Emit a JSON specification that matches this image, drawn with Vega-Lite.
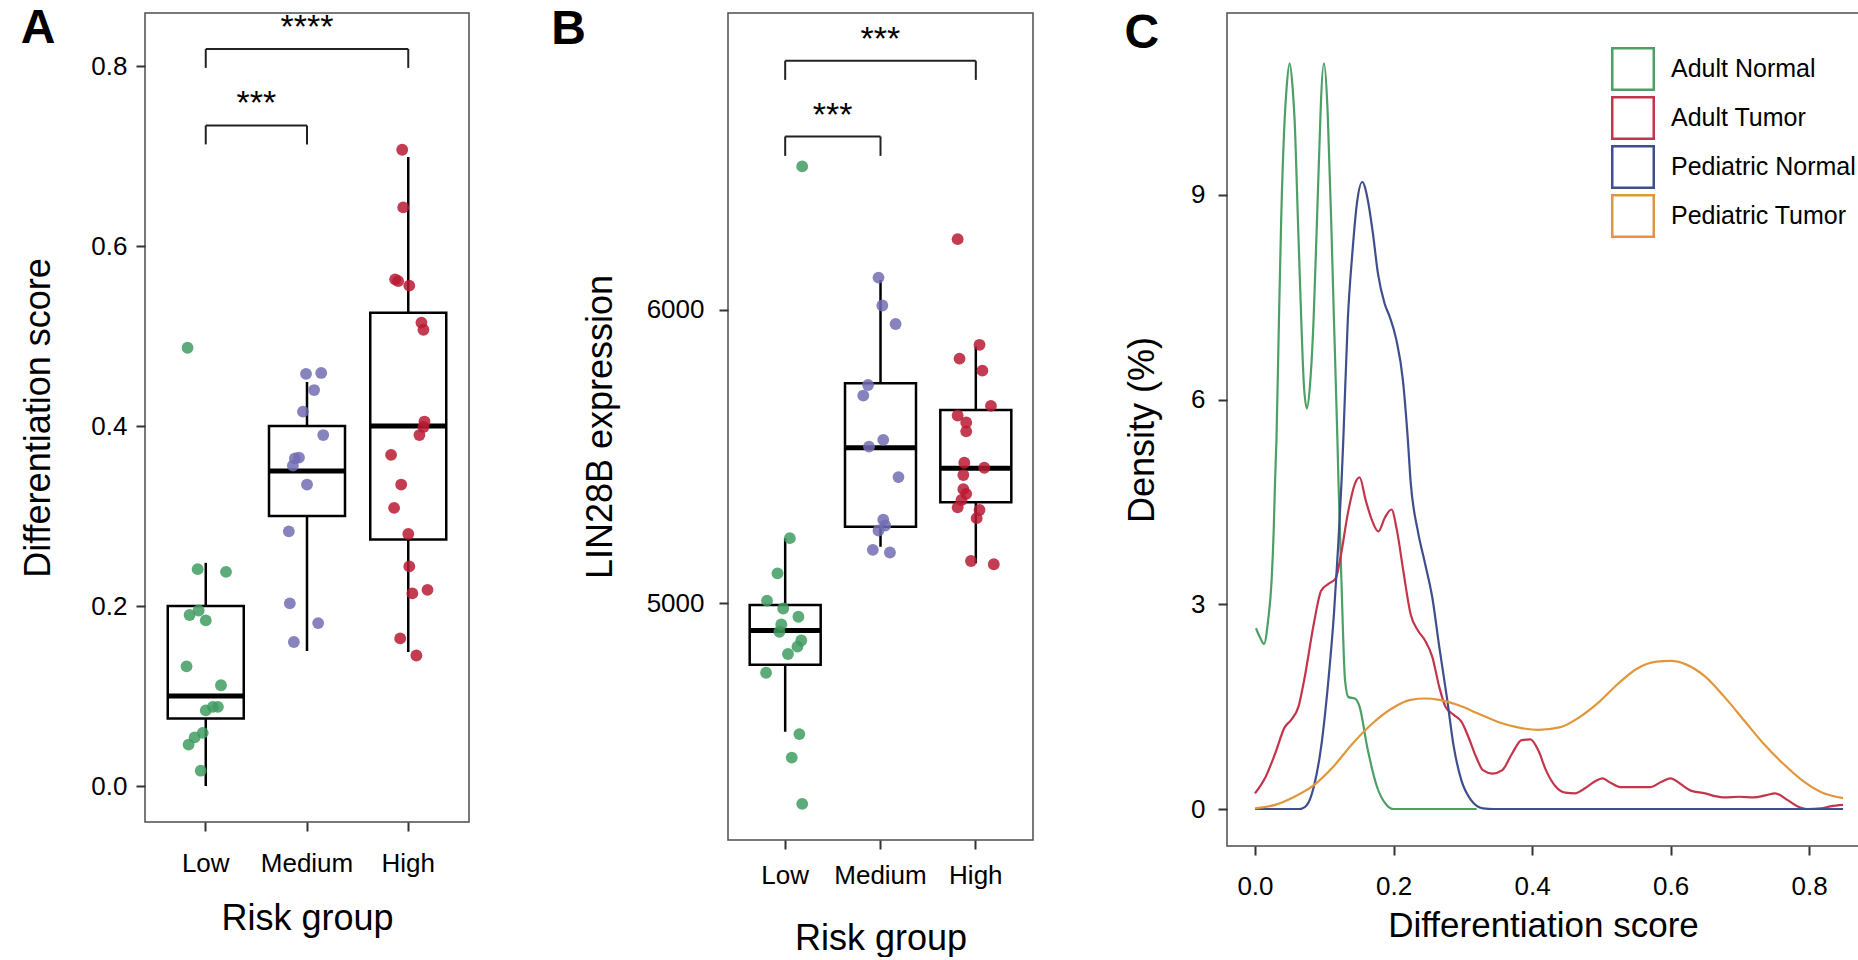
{
  "$schema": "https://vega.github.io/schema/vega-lite/v6.json",
  "background": "white",
  "padding": {"left": 20, "top": 4, "right": 0, "bottom": 0},
  "config": {
    "font": "Liberation Sans",
    "view": {"stroke": "#4d4d4d", "strokeWidth": 1.5},
    "axis": {"grid": false, "domain": false, "ticks": true, "tickColor": "#333333", "tickWidth": 2, "tickSize": 9, "labelFontSize": 26, "labelColor": "#000000", "titleFontSize": 36, "titleFontWeight": "normal", "titleColor": "#000000"}
  },
  "resolve": {"scale": {"color": "independent", "xOffset": "independent"}, "legend": {"color": "independent"}},
  "datasets": {
    "boxA": [
      {"group": "Low", "lower": 0.0, "q1": 0.075, "median": 0.1, "q3": 0.2, "upper": 0.248},
      {"group": "Medium", "lower": 0.15, "q1": 0.3, "median": 0.35, "q3": 0.4, "upper": 0.449},
      {"group": "High", "lower": 0.149, "q1": 0.274, "median": 0.4, "q3": 0.526, "upper": 0.699}
    ],
    "ptsA": [
      {"group": "Low", "value": 0.487, "jit": -0.18}, {"group": "Low", "value": 0.241, "jit": -0.08}, {"group": "Low", "value": 0.238, "jit": 0.2},
      {"group": "Low", "value": 0.195, "jit": -0.07}, {"group": "Low", "value": 0.19, "jit": -0.16}, {"group": "Low", "value": 0.184, "jit": 0.0},
      {"group": "Low", "value": 0.133, "jit": -0.19}, {"group": "Low", "value": 0.112, "jit": 0.15}, {"group": "Low", "value": 0.088, "jit": 0.07},
      {"group": "Low", "value": 0.088, "jit": 0.12}, {"group": "Low", "value": 0.084, "jit": 0.0}, {"group": "Low", "value": 0.059, "jit": -0.03},
      {"group": "Low", "value": 0.054, "jit": -0.11}, {"group": "Low", "value": 0.046, "jit": -0.17}, {"group": "Low", "value": 0.017, "jit": -0.05},
      {"group": "Medium", "value": 0.458, "jit": -0.01}, {"group": "Medium", "value": 0.459, "jit": 0.14}, {"group": "Medium", "value": 0.44, "jit": 0.07},
      {"group": "Medium", "value": 0.416, "jit": -0.04}, {"group": "Medium", "value": 0.39, "jit": 0.16}, {"group": "Medium", "value": 0.365, "jit": -0.08},
      {"group": "Medium", "value": 0.364, "jit": -0.12}, {"group": "Medium", "value": 0.356, "jit": -0.14}, {"group": "Medium", "value": 0.335, "jit": 0.0},
      {"group": "Medium", "value": 0.283, "jit": -0.18}, {"group": "Medium", "value": 0.203, "jit": -0.17}, {"group": "Medium", "value": 0.181, "jit": 0.11},
      {"group": "Medium", "value": 0.16, "jit": -0.13},
      {"group": "High", "value": 0.707, "jit": -0.06}, {"group": "High", "value": 0.643, "jit": -0.05}, {"group": "High", "value": 0.563, "jit": -0.13},
      {"group": "High", "value": 0.561, "jit": -0.1}, {"group": "High", "value": 0.556, "jit": 0.01}, {"group": "High", "value": 0.515, "jit": 0.13},
      {"group": "High", "value": 0.507, "jit": 0.15}, {"group": "High", "value": 0.405, "jit": 0.16}, {"group": "High", "value": 0.399, "jit": 0.15},
      {"group": "High", "value": 0.39, "jit": 0.11}, {"group": "High", "value": 0.368, "jit": -0.17}, {"group": "High", "value": 0.335, "jit": -0.07},
      {"group": "High", "value": 0.309, "jit": -0.14}, {"group": "High", "value": 0.28, "jit": 0.0}, {"group": "High", "value": 0.244, "jit": 0.01},
      {"group": "High", "value": 0.214, "jit": 0.04}, {"group": "High", "value": 0.218, "jit": 0.19}, {"group": "High", "value": 0.164, "jit": -0.08},
      {"group": "High", "value": 0.145, "jit": 0.08}
    ],
    "brA": [
      {"group": "Low", "group2": "High", "top": 0.819},
      {"group": "Low", "group2": "Medium", "top": 0.734}
    ],
    "legA": [
      {"group": "Low", "top": 0.819, "bottom": 0.798}, {"group": "High", "top": 0.819, "bottom": 0.798},
      {"group": "Low", "top": 0.734, "bottom": 0.713}, {"group": "Medium", "top": 0.734, "bottom": 0.713}
    ],
    "labA": [
      {"group": "Medium", "jit": 0, "top": 0.819, "label": "****"},
      {"group": "Low", "jit": 0.5, "top": 0.734, "label": "***"}
    ],
    "boxB": [
      {"group": "Low", "lower": 4562, "q1": 4790, "median": 4907, "q3": 4994, "upper": 5222},
      {"group": "Medium", "lower": 5193, "q1": 5261, "median": 5530, "q3": 5750, "upper": 6102},
      {"group": "High", "lower": 5136, "q1": 5344, "median": 5460, "q3": 5659, "upper": 5875}
    ],
    "ptsB": [
      {"group": "Low", "value": 6489, "jit": 0.18}, {"group": "Low", "value": 5222, "jit": 0.05}, {"group": "Low", "value": 5102, "jit": -0.08},
      {"group": "Low", "value": 5009, "jit": -0.19}, {"group": "Low", "value": 4982, "jit": -0.02}, {"group": "Low", "value": 4954, "jit": 0.14},
      {"group": "Low", "value": 4928, "jit": -0.04}, {"group": "Low", "value": 4903, "jit": -0.06}, {"group": "Low", "value": 4873, "jit": 0.17},
      {"group": "Low", "value": 4852, "jit": 0.13}, {"group": "Low", "value": 4827, "jit": 0.03}, {"group": "Low", "value": 4763, "jit": -0.2},
      {"group": "Low", "value": 4554, "jit": 0.15}, {"group": "Low", "value": 4474, "jit": 0.07}, {"group": "Low", "value": 4316, "jit": 0.18},
      {"group": "Medium", "value": 6110, "jit": -0.02}, {"group": "Medium", "value": 6015, "jit": 0.02}, {"group": "Medium", "value": 5952, "jit": 0.16},
      {"group": "Medium", "value": 5744, "jit": -0.13}, {"group": "Medium", "value": 5708, "jit": -0.18}, {"group": "Medium", "value": 5557, "jit": 0.03},
      {"group": "Medium", "value": 5534, "jit": -0.12}, {"group": "Medium", "value": 5430, "jit": 0.19}, {"group": "Medium", "value": 5285, "jit": 0.03},
      {"group": "Medium", "value": 5265, "jit": 0.05}, {"group": "Medium", "value": 5248, "jit": -0.02}, {"group": "Medium", "value": 5182, "jit": -0.08},
      {"group": "Medium", "value": 5173, "jit": 0.1},
      {"group": "High", "value": 6241, "jit": -0.19}, {"group": "High", "value": 5881, "jit": 0.04}, {"group": "High", "value": 5834, "jit": -0.17},
      {"group": "High", "value": 5793, "jit": 0.07}, {"group": "High", "value": 5673, "jit": 0.16}, {"group": "High", "value": 5640, "jit": -0.19},
      {"group": "High", "value": 5616, "jit": -0.1}, {"group": "High", "value": 5586, "jit": -0.1}, {"group": "High", "value": 5479, "jit": -0.12},
      {"group": "High", "value": 5462, "jit": 0.09}, {"group": "High", "value": 5437, "jit": -0.13}, {"group": "High", "value": 5389, "jit": -0.13},
      {"group": "High", "value": 5373, "jit": -0.1}, {"group": "High", "value": 5352, "jit": -0.15}, {"group": "High", "value": 5327, "jit": -0.19},
      {"group": "High", "value": 5318, "jit": 0.04}, {"group": "High", "value": 5290, "jit": 0.01}, {"group": "High", "value": 5144, "jit": -0.05},
      {"group": "High", "value": 5133, "jit": 0.19}
    ],
    "brB": [
      {"group": "Low", "group2": "High", "top": 6849},
      {"group": "Low", "group2": "Medium", "top": 6591}
    ],
    "legB": [
      {"group": "Low", "top": 6849, "bottom": 6784}, {"group": "High", "top": 6849, "bottom": 6784},
      {"group": "Low", "top": 6591, "bottom": 6525}, {"group": "Medium", "top": 6591, "bottom": 6525}
    ],
    "labB": [
      {"group": "Medium", "jit": 0, "top": 6849, "label": "***"},
      {"group": "Low", "jit": 0.5, "top": 6591, "label": "***"}
    ],
    "dens": [
      {"grp": "Adult Normal", "x": 0.0014, "d": 2.65}, {"grp": "Adult Normal", "x": 0.007, "d": 2.52}, {"grp": "Adult Normal", "x": 0.013, "d": 2.42},
      {"grp": "Adult Normal", "x": 0.019, "d": 2.77}, {"grp": "Adult Normal", "x": 0.024, "d": 3.35}, {"grp": "Adult Normal", "x": 0.027, "d": 4.08},
      {"grp": "Adult Normal", "x": 0.029, "d": 4.81}, {"grp": "Adult Normal", "x": 0.031, "d": 5.41}, {"grp": "Adult Normal", "x": 0.0346, "d": 7.17},
      {"grp": "Adult Normal", "x": 0.0378, "d": 8.63}, {"grp": "Adult Normal", "x": 0.0428, "d": 10.1}, {"grp": "Adult Normal", "x": 0.0455, "d": 10.55},
      {"grp": "Adult Normal", "x": 0.05, "d": 10.93}, {"grp": "Adult Normal", "x": 0.0545, "d": 10.55}, {"grp": "Adult Normal", "x": 0.0572, "d": 10.1},
      {"grp": "Adult Normal", "x": 0.062, "d": 8.63}, {"grp": "Adult Normal", "x": 0.0668, "d": 7.17}, {"grp": "Adult Normal", "x": 0.0707, "d": 6.2},
      {"grp": "Adult Normal", "x": 0.075, "d": 5.87}, {"grp": "Adult Normal", "x": 0.0793, "d": 6.2}, {"grp": "Adult Normal", "x": 0.0846, "d": 7.17},
      {"grp": "Adult Normal", "x": 0.0895, "d": 8.63}, {"grp": "Adult Normal", "x": 0.0943, "d": 10.1}, {"grp": "Adult Normal", "x": 0.095, "d": 10.3},
      {"grp": "Adult Normal", "x": 0.0995, "d": 10.93}, {"grp": "Adult Normal", "x": 0.1045, "d": 10.3}, {"grp": "Adult Normal", "x": 0.1053, "d": 10.1},
      {"grp": "Adult Normal", "x": 0.11, "d": 8.63}, {"grp": "Adult Normal", "x": 0.114, "d": 7.17}, {"grp": "Adult Normal", "x": 0.119, "d": 5.41},
      {"grp": "Adult Normal", "x": 0.1205, "d": 4.81}, {"grp": "Adult Normal", "x": 0.1248, "d": 3.35}, {"grp": "Adult Normal", "x": 0.13, "d": 1.89},
      {"grp": "Adult Normal", "x": 0.135, "d": 1.64}, {"grp": "Adult Normal", "x": 0.144, "d": 1.62}, {"grp": "Adult Normal", "x": 0.151, "d": 1.5},
      {"grp": "Adult Normal", "x": 0.162, "d": 0.91}, {"grp": "Adult Normal", "x": 0.176, "d": 0.33}, {"grp": "Adult Normal", "x": 0.19, "d": 0.06},
      {"grp": "Adult Normal", "x": 0.2, "d": 0.0}, {"grp": "Adult Normal", "x": 0.25, "d": 0.0}, {"grp": "Adult Normal", "x": 0.32, "d": 0.0},
      {"grp": "Adult Tumor", "x": 0.0, "d": 0.23}, {"grp": "Adult Tumor", "x": 0.0153, "d": 0.47}, {"grp": "Adult Tumor", "x": 0.029, "d": 0.81},
      {"grp": "Adult Tumor", "x": 0.043, "d": 1.2}, {"grp": "Adult Tumor", "x": 0.0516, "d": 1.3}, {"grp": "Adult Tumor", "x": 0.0628, "d": 1.5},
      {"grp": "Adult Tumor", "x": 0.071, "d": 1.89}, {"grp": "Adult Tumor", "x": 0.085, "d": 2.72}, {"grp": "Adult Tumor", "x": 0.0955, "d": 3.2},
      {"grp": "Adult Tumor", "x": 0.106, "d": 3.3}, {"grp": "Adult Tumor", "x": 0.1165, "d": 3.38}, {"grp": "Adult Tumor", "x": 0.1235, "d": 3.69},
      {"grp": "Adult Tumor", "x": 0.134, "d": 4.33}, {"grp": "Adult Tumor", "x": 0.1444, "d": 4.77}, {"grp": "Adult Tumor", "x": 0.151, "d": 4.86},
      {"grp": "Adult Tumor", "x": 0.16, "d": 4.52}, {"grp": "Adult Tumor", "x": 0.169, "d": 4.23}, {"grp": "Adult Tumor", "x": 0.178, "d": 4.07},
      {"grp": "Adult Tumor", "x": 0.188, "d": 4.28}, {"grp": "Adult Tumor", "x": 0.197, "d": 4.39}, {"grp": "Adult Tumor", "x": 0.205, "d": 4.08},
      {"grp": "Adult Tumor", "x": 0.214, "d": 3.5}, {"grp": "Adult Tumor", "x": 0.2246, "d": 2.86}, {"grp": "Adult Tumor", "x": 0.235, "d": 2.62},
      {"grp": "Adult Tumor", "x": 0.2455, "d": 2.47}, {"grp": "Adult Tumor", "x": 0.256, "d": 2.23}, {"grp": "Adult Tumor", "x": 0.266, "d": 1.79},
      {"grp": "Adult Tumor", "x": 0.275, "d": 1.5}, {"grp": "Adult Tumor", "x": 0.287, "d": 1.38}, {"grp": "Adult Tumor", "x": 0.298, "d": 1.28},
      {"grp": "Adult Tumor", "x": 0.308, "d": 1.06}, {"grp": "Adult Tumor", "x": 0.319, "d": 0.77}, {"grp": "Adult Tumor", "x": 0.329, "d": 0.57},
      {"grp": "Adult Tumor", "x": 0.343, "d": 0.52}, {"grp": "Adult Tumor", "x": 0.357, "d": 0.57}, {"grp": "Adult Tumor", "x": 0.371, "d": 0.81},
      {"grp": "Adult Tumor", "x": 0.385, "d": 1.01}, {"grp": "Adult Tumor", "x": 0.3975, "d": 1.02}, {"grp": "Adult Tumor", "x": 0.409, "d": 0.86},
      {"grp": "Adult Tumor", "x": 0.42, "d": 0.57}, {"grp": "Adult Tumor", "x": 0.434, "d": 0.33}, {"grp": "Adult Tumor", "x": 0.448, "d": 0.24},
      {"grp": "Adult Tumor", "x": 0.462, "d": 0.23}, {"grp": "Adult Tumor", "x": 0.4757, "d": 0.3}, {"grp": "Adult Tumor", "x": 0.49, "d": 0.4},
      {"grp": "Adult Tumor", "x": 0.5015, "d": 0.45}, {"grp": "Adult Tumor", "x": 0.514, "d": 0.38}, {"grp": "Adult Tumor", "x": 0.528, "d": 0.32},
      {"grp": "Adult Tumor", "x": 0.545, "d": 0.32}, {"grp": "Adult Tumor", "x": 0.57, "d": 0.32}, {"grp": "Adult Tumor", "x": 0.587, "d": 0.4},
      {"grp": "Adult Tumor", "x": 0.6, "d": 0.45}, {"grp": "Adult Tumor", "x": 0.614, "d": 0.37}, {"grp": "Adult Tumor", "x": 0.629, "d": 0.27},
      {"grp": "Adult Tumor", "x": 0.65, "d": 0.23}, {"grp": "Adult Tumor", "x": 0.664, "d": 0.19}, {"grp": "Adult Tumor", "x": 0.678, "d": 0.17},
      {"grp": "Adult Tumor", "x": 0.699, "d": 0.18}, {"grp": "Adult Tumor", "x": 0.72, "d": 0.17}, {"grp": "Adult Tumor", "x": 0.737, "d": 0.2},
      {"grp": "Adult Tumor", "x": 0.751, "d": 0.23}, {"grp": "Adult Tumor", "x": 0.769, "d": 0.13}, {"grp": "Adult Tumor", "x": 0.783, "d": 0.04},
      {"grp": "Adult Tumor", "x": 0.797, "d": 0.0}, {"grp": "Adult Tumor", "x": 0.817, "d": 0.01}, {"grp": "Adult Tumor", "x": 0.831, "d": 0.04},
      {"grp": "Adult Tumor", "x": 0.849, "d": 0.06},
      {"grp": "Pediatric Normal", "x": 0.0, "d": 0.0}, {"grp": "Pediatric Normal", "x": 0.064, "d": 0.0}, {"grp": "Pediatric Normal", "x": 0.075, "d": 0.06},
      {"grp": "Pediatric Normal", "x": 0.085, "d": 0.33}, {"grp": "Pediatric Normal", "x": 0.0955, "d": 0.91}, {"grp": "Pediatric Normal", "x": 0.106, "d": 1.89},
      {"grp": "Pediatric Normal", "x": 0.114, "d": 2.86}, {"grp": "Pediatric Normal", "x": 0.12, "d": 3.84}, {"grp": "Pediatric Normal", "x": 0.125, "d": 4.81},
      {"grp": "Pediatric Normal", "x": 0.1275, "d": 5.41}, {"grp": "Pediatric Normal", "x": 0.134, "d": 7.17}, {"grp": "Pediatric Normal", "x": 0.1406, "d": 8.15},
      {"grp": "Pediatric Normal", "x": 0.1472, "d": 8.88}, {"grp": "Pediatric Normal", "x": 0.1548, "d": 9.19}, {"grp": "Pediatric Normal", "x": 0.163, "d": 8.92},
      {"grp": "Pediatric Normal", "x": 0.1702, "d": 8.44}, {"grp": "Pediatric Normal", "x": 0.1775, "d": 7.85}, {"grp": "Pediatric Normal", "x": 0.1871, "d": 7.41},
      {"grp": "Pediatric Normal", "x": 0.1943, "d": 7.22}, {"grp": "Pediatric Normal", "x": 0.204, "d": 6.88}, {"grp": "Pediatric Normal", "x": 0.2135, "d": 6.29},
      {"grp": "Pediatric Normal", "x": 0.2207, "d": 5.41}, {"grp": "Pediatric Normal", "x": 0.2246, "d": 4.81}, {"grp": "Pediatric Normal", "x": 0.235, "d": 4.08},
      {"grp": "Pediatric Normal", "x": 0.2455, "d": 3.6}, {"grp": "Pediatric Normal", "x": 0.256, "d": 3.1}, {"grp": "Pediatric Normal", "x": 0.266, "d": 2.38},
      {"grp": "Pediatric Normal", "x": 0.277, "d": 1.64}, {"grp": "Pediatric Normal", "x": 0.287, "d": 0.91}, {"grp": "Pediatric Normal", "x": 0.298, "d": 0.42},
      {"grp": "Pediatric Normal", "x": 0.312, "d": 0.13}, {"grp": "Pediatric Normal", "x": 0.329, "d": 0.01}, {"grp": "Pediatric Normal", "x": 0.345, "d": 0.0},
      {"grp": "Pediatric Normal", "x": 0.849, "d": 0.0},
      {"grp": "Pediatric Tumor", "x": 0.0, "d": 0.01}, {"grp": "Pediatric Tumor", "x": 0.029, "d": 0.06}, {"grp": "Pediatric Tumor", "x": 0.057, "d": 0.18},
      {"grp": "Pediatric Tumor", "x": 0.085, "d": 0.35}, {"grp": "Pediatric Tumor", "x": 0.113, "d": 0.62}, {"grp": "Pediatric Tumor", "x": 0.141, "d": 0.96},
      {"grp": "Pediatric Tumor", "x": 0.169, "d": 1.25}, {"grp": "Pediatric Tumor", "x": 0.197, "d": 1.47}, {"grp": "Pediatric Tumor", "x": 0.2246, "d": 1.6},
      {"grp": "Pediatric Tumor", "x": 0.2455, "d": 1.62}, {"grp": "Pediatric Tumor", "x": 0.266, "d": 1.6}, {"grp": "Pediatric Tumor", "x": 0.294, "d": 1.52},
      {"grp": "Pediatric Tumor", "x": 0.322, "d": 1.4}, {"grp": "Pediatric Tumor", "x": 0.35, "d": 1.28}, {"grp": "Pediatric Tumor", "x": 0.378, "d": 1.2},
      {"grp": "Pediatric Tumor", "x": 0.409, "d": 1.16}, {"grp": "Pediatric Tumor", "x": 0.441, "d": 1.2}, {"grp": "Pediatric Tumor", "x": 0.469, "d": 1.35},
      {"grp": "Pediatric Tumor", "x": 0.497, "d": 1.57}, {"grp": "Pediatric Tumor", "x": 0.5245, "d": 1.84}, {"grp": "Pediatric Tumor", "x": 0.552, "d": 2.06},
      {"grp": "Pediatric Tumor", "x": 0.58, "d": 2.16}, {"grp": "Pediatric Tumor", "x": 0.6, "d": 2.17}, {"grp": "Pediatric Tumor", "x": 0.622, "d": 2.12},
      {"grp": "Pediatric Tumor", "x": 0.65, "d": 1.94}, {"grp": "Pediatric Tumor", "x": 0.678, "d": 1.64}, {"grp": "Pediatric Tumor", "x": 0.706, "d": 1.3},
      {"grp": "Pediatric Tumor", "x": 0.734, "d": 0.96}, {"grp": "Pediatric Tumor", "x": 0.762, "d": 0.67}, {"grp": "Pediatric Tumor", "x": 0.79, "d": 0.42},
      {"grp": "Pediatric Tumor", "x": 0.817, "d": 0.25}, {"grp": "Pediatric Tumor", "x": 0.849, "d": 0.16}
    ]
  },
  "spacing": 80,
  "hconcat": [
    {
      "width": 324,
      "height": 809,
      "title": {"text": "A", "anchor": "start", "frame": "bounds", "offset": -42, "fontSize": 48, "fontWeight": "bold", "color": "#000000"},
      "encoding": {
        "x": {"field": "group", "type": "nominal", "scale": {"domain": ["Low", "Medium", "High"], "paddingInner": 0.25, "paddingOuter": 0.225}, "axis": {"title": "Risk group", "labelAngle": 0, "labelPadding": 19, "titlePadding": 25}}
      },
      "layer": [
        {"data": {"name": "boxA"}, "mark": {"type": "rule", "stroke": "#000000", "strokeWidth": 2.5},
         "encoding": {"y": {"field": "lower", "type": "quantitative", "scale": {"domain": [-0.04, 0.859], "nice": false, "zero": false}, "axis": {"title": "Differentiation score", "values": [0, 0.2, 0.4, 0.6, 0.8], "format": ".1f", "labelPadding": 9, "titlePadding": 33}}, "y2": {"field": "upper"}}},
        {"data": {"name": "boxA"}, "mark": {"type": "bar", "width": 76, "fill": "#ffffff", "stroke": "#000000", "strokeWidth": 2.5},
         "encoding": {"y": {"field": "q1", "type": "quantitative"}, "y2": {"field": "q3"}}},
        {"data": {"name": "boxA"}, "mark": {"type": "tick", "color": "#000000", "size": 76, "thickness": 5, "opacity": 1},
         "encoding": {"y": {"field": "median", "type": "quantitative"}}},
        {"data": {"name": "ptsA"}, "mark": {"type": "circle", "size": 140, "opacity": 0.85},
         "encoding": {"y": {"field": "value", "type": "quantitative"},
           "xOffset": {"field": "jit", "type": "quantitative", "scale": {"domain": [-0.5, 0.5], "range": [-12.6, 88.6]}},
           "color": {"field": "group", "type": "nominal", "scale": {"domain": ["Low", "Medium", "High"], "range": ["#3F9C62", "#726DB3", "#BA1A32"]}, "legend": null}}},
        {"data": {"name": "brA"}, "mark": {"type": "rule", "stroke": "#222222", "strokeWidth": 2},
         "encoding": {"x2": {"field": "group2"}, "y": {"field": "top", "type": "quantitative"}}},
        {"data": {"name": "legA"}, "mark": {"type": "rule", "stroke": "#222222", "strokeWidth": 2},
         "encoding": {"y": {"field": "bottom", "type": "quantitative"}, "y2": {"field": "top"}}},
        {"data": {"name": "labA"}, "mark": {"type": "text", "fontSize": 34, "dy": -11, "baseline": "alphabetic", "color": "#000000"},
         "encoding": {"xOffset": {"field": "jit", "type": "quantitative"}, "y": {"field": "top", "type": "quantitative"}, "text": {"field": "label"}}}
      ]
    },
    {
      "spacing": 89,
      "resolve": {"scale": {"color": "independent", "xOffset": "independent"}, "legend": {"color": "independent"}},
      "hconcat": [
        {
          "width": 305,
          "height": 827,
          "title": {"text": "B", "anchor": "start", "frame": "bounds", "offset": -41, "dx": -31, "fontSize": 48, "fontWeight": "bold", "color": "#000000"},
          "encoding": {
            "x": {"field": "group", "type": "nominal", "scale": {"domain": ["Low", "Medium", "High"], "paddingInner": 0.25, "paddingOuter": 0.225}, "axis": {"title": "Risk group", "labelAngle": 0, "labelPadding": 13, "titlePadding": 33}}
          },
          "layer": [
            {"data": {"name": "boxB"}, "mark": {"type": "rule", "stroke": "#000000", "strokeWidth": 2.5},
             "encoding": {"y": {"field": "lower", "type": "quantitative", "scale": {"domain": [4193, 7012], "nice": false, "zero": false}, "axis": {"title": "LIN28B expression", "values": [5000, 6000], "format": "d", "labelPadding": 15, "titlePadding": 27}}, "y2": {"field": "upper"}}},
            {"data": {"name": "boxB"}, "mark": {"type": "bar", "width": 71, "fill": "#ffffff", "stroke": "#000000", "strokeWidth": 2.5},
             "encoding": {"y": {"field": "q1", "type": "quantitative"}, "y2": {"field": "q3"}}},
            {"data": {"name": "boxB"}, "mark": {"type": "tick", "color": "#000000", "size": 71, "thickness": 5, "opacity": 1},
             "encoding": {"y": {"field": "median", "type": "quantitative"}}},
            {"data": {"name": "ptsB"}, "mark": {"type": "circle", "size": 140, "opacity": 0.85},
             "encoding": {"y": {"field": "value", "type": "quantitative"},
               "xOffset": {"field": "jit", "type": "quantitative", "scale": {"domain": [-0.5, 0.5], "range": [-11.9, 83.2]}},
               "color": {"field": "group", "type": "nominal", "scale": {"domain": ["Low", "Medium", "High"], "range": ["#3F9C62", "#726DB3", "#BA1A32"]}, "legend": null}}},
            {"data": {"name": "brB"}, "mark": {"type": "rule", "stroke": "#222222", "strokeWidth": 2},
             "encoding": {"x2": {"field": "group2"}, "y": {"field": "top", "type": "quantitative"}}},
            {"data": {"name": "legB"}, "mark": {"type": "rule", "stroke": "#222222", "strokeWidth": 2},
             "encoding": {"y": {"field": "bottom", "type": "quantitative"}, "y2": {"field": "top"}}},
            {"data": {"name": "labB"}, "mark": {"type": "text", "fontSize": 34, "dy": -11, "baseline": "alphabetic", "color": "#000000"},
             "encoding": {"xOffset": {"field": "jit", "type": "quantitative"}, "y": {"field": "top", "type": "quantitative"}, "text": {"field": "label"}}}
          ]
        },
        {
          "width": 632,
          "height": 833,
          "title": {"text": "C", "anchor": "start", "frame": "bounds", "offset": -45, "fontSize": 48, "fontWeight": "bold", "color": "#000000"},
          "data": {"name": "dens"},
          "mark": {"type": "line", "strokeWidth": 2.2, "interpolate": "monotone", "clip": true},
          "encoding": {
            "x": {"field": "x", "type": "quantitative", "scale": {"domain": [-0.0404, 0.872], "nice": false, "zero": false}, "axis": {"title": "Differentiation score", "titleFontSize": 35, "values": [0, 0.2, 0.4, 0.6, 0.8], "format": ".1f", "labelPadding": 18, "titlePadding": 9}},
            "y": {"field": "d", "type": "quantitative", "scale": {"domain": [-0.542, 11.667], "nice": false, "zero": false}, "axis": {"title": "Density (%)", "values": [0, 3, 6, 9], "format": "d", "labelPadding": 13, "titlePadding": 29}},
            "color": {"field": "grp", "type": "nominal", "scale": {"domain": ["Adult Normal", "Adult Tumor", "Pediatric Normal", "Pediatric Tumor"], "range": ["#4C9F65", "#C3354A", "#3F4E8C", "#E1963C"]},
              "legend": {"title": null, "orient": "none", "legendX": 384, "legendY": 34, "padding": 0, "symbolType": "square", "symbolSize": 1722, "symbolStrokeWidth": 2.5, "symbolFillColor": "#ffffff", "labelFontSize": 25, "labelLimit": 400, "labelColor": "#000000", "labelOffset": 16, "rowPadding": -3}}
          }
        }
      ]
    }
  ]
}
